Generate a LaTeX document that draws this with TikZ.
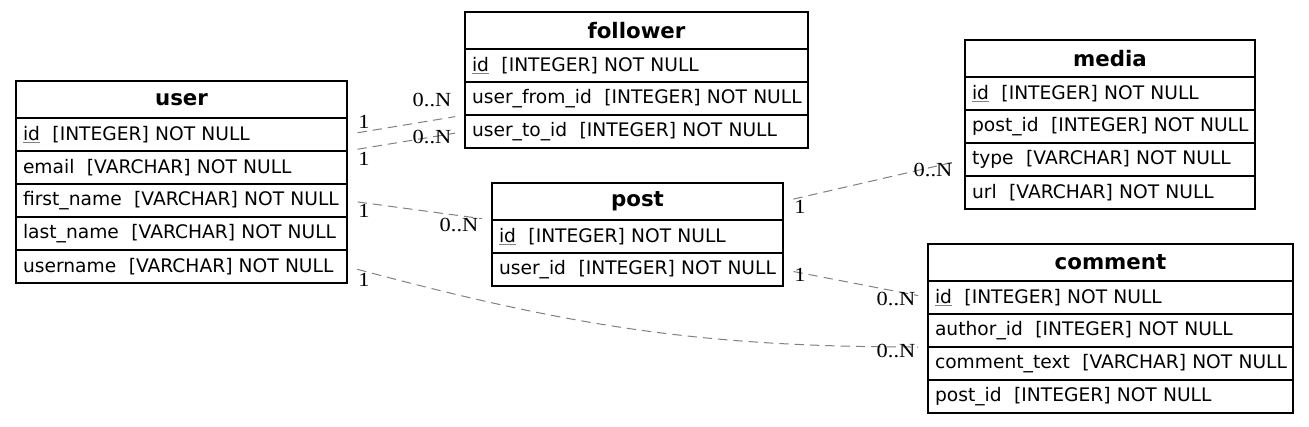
\documentclass[tikz,border=0pt]{standalone}
\usepackage{fontspec}
\setmainfont{DejaVu Sans}
\newfontfamily\cardfont[FakeStretch=1.12]{Liberation Serif}
\usepackage{tikz}

\newcommand{\pkey}[1]{\textcolor{gray}{\underline{\textcolor{black}{#1}}}}
\newcommand{\fld}[2]{\mbox{#1\ \ [#2] NOT NULL}}

\begin{document}
\begin{tikzpicture}[x=0.75pt, y=-0.75pt,
	tblhead/.style={draw, line width=0.8pt, outer sep=0pt, anchor=north west, minimum height=27.75pt, inner xsep=5.25pt, align=center, font=\fontsize{16}{19}\selectfont\bfseries},
	tblrow/.style={draw, line width=0.8pt, outer sep=0pt, anchor=north west, minimum height=24.75pt, inner xsep=5.25pt, align=left, font=\fontsize{14}{17}\selectfont},
	usertbl/.style={text width=237.75pt},
	followertbl/.style={text width=246.75pt},
	mediatbl/.style={text width=207pt},
	posttbl/.style={text width=207.75pt},
	commenttbl/.style={text width=263.25pt},
	rel/.style={draw=gray, line width=0.75pt, dash pattern=on 7pt off 4.5pt, shorten <=8pt, shorten >=7.5pt},
	card/.style={inner sep=0pt, font=\cardfont\fontsize{15}{18}\selectfont}]
	\useasboundingbox (0,0) rectangle (1309,426);

	\node[tblhead, usertbl] (user-head) at (16,81) {user};
	\node[tblrow, usertbl] (user-id) at (user-head.south west) {\fld{\pkey{id}}{INTEGER}};
	\node[tblrow, usertbl] (user-email) at (user-id.south west) {\fld{email}{VARCHAR}};
	\node[tblrow, usertbl] (user-first) at (user-email.south west) {\fld{first\_name}{VARCHAR}};
	\node[tblrow, usertbl] (user-last) at (user-first.south west) {\fld{last\_name}{VARCHAR}};
	\node[tblrow, usertbl] (user-uname) at (user-last.south west) {\fld{username}{VARCHAR}};

	\node[tblhead, followertbl] (fol-head) at (465,12) {follower};
	\node[tblrow, followertbl] (fol-id) at (fol-head.south west) {\fld{\pkey{id}}{INTEGER}};
	\node[tblrow, followertbl] (fol-from) at (fol-id.south west) {\fld{user\_from\_id}{INTEGER}};
	\node[tblrow, followertbl] (fol-to) at (fol-from.south west) {\fld{user\_to\_id}{INTEGER}};

	\node[tblhead, mediatbl] (media-head) at (965,40) {media};
	\node[tblrow, mediatbl] (media-id) at (media-head.south west) {\fld{\pkey{id}}{INTEGER}};
	\node[tblrow, mediatbl] (media-post) at (media-id.south west) {\fld{post\_id}{INTEGER}};
	\node[tblrow, mediatbl] (media-type) at (media-post.south west) {\fld{type}{VARCHAR}};
	\node[tblrow, mediatbl] (media-url) at (media-type.south west) {\fld{url}{VARCHAR}};

	\node[tblhead, posttbl] (post-head) at (492,183) {post};
	\node[tblrow, posttbl] (post-id) at (post-head.south west) {\fld{\pkey{id}}{INTEGER}};
	\node[tblrow, posttbl] (post-user) at (post-id.south west) {\fld{user\_id}{INTEGER}};

	\node[tblhead, commenttbl] (com-head) at (928,244) {comment};
	\node[tblrow, commenttbl] (com-id) at (com-head.south west) {\fld{\pkey{id}}{INTEGER}};
	\node[tblrow, commenttbl] (com-author) at (com-id.south west) {\fld{author\_id}{INTEGER}};
	\node[tblrow, commenttbl] (com-text) at (com-author.south west) {\fld{comment\_text}{VARCHAR}};
	\node[tblrow, commenttbl] (com-post) at (com-text.south west) {\fld{post\_id}{INTEGER}};

	\draw[rel] (user-id.east) -- (fol-from.south west);
	\draw[rel] (user-email.north east) -- (fol-to.west);
	\draw[rel] (user-first.east) -- (post-id.north west);
	\draw[rel] (user-uname.east) to[out=-15, in=180] (com-author.south west);
	\draw[rel] (post-head.east) -- (media-type.west);
	\draw[rel] (post-user.east) -- (com-id.west);

	\node[card] (c1t) at (364,122) {1};
	\node[card] (c1h) at (432,100) {0..N};
	\node[card] (c2t) at (364,159) {1};
	\node[card] (c2h) at (432,137) {0..N};
	\node[card] (c3t) at (364,211) {1};
	\node[card] (c3h) at (459,225) {0..N};
	\node[card] (c4t) at (364,280) {1};
	\node[card] (c4h) at (896,351) {0..N};
	\node[card] (c5t) at (800,207) {1};
	\node[card] (c5h) at (933,170) {0..N};
	\node[card] (c6t) at (800,275) {1};
	\node[card] (c6h) at (896,299) {0..N};
\end{tikzpicture}
\end{document}
